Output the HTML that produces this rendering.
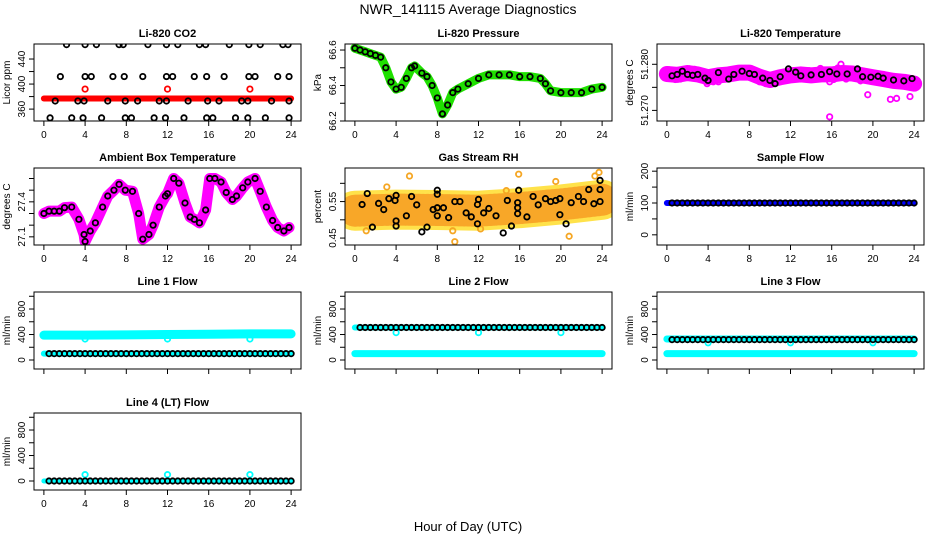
<!DOCTYPE html>
<html><head><meta charset="utf-8"><style>
body{margin:0;background:#fff}
svg{display:block;font-family:"Liberation Sans",sans-serif}
</style></head><body>
<svg id="c" width="936" height="540" viewBox="0 0 936 540">
<text x="468" y="14" font-size="14" text-anchor="middle">NWR_141115  Average Diagnostics</text>
<text x="468" y="531" font-size="13" text-anchor="middle">Hour of Day (UTC)</text>
</svg>
<script>
// ---- data ----
const hours = [0.5,1,1.5,2,2.5,3,3.5,4,4.5,5,5.5,6,6.5,7,7.5,8,8.5,9,9.5,10,10.5,11,11.5,12,12.5,13,13.5,14,14.5,15,15.5,16,16.5,17,17.5,18,18.5,19,19.5,20,20.5,21,21.5,22,22.5,23,23.5,24];
const xTicks = [0,4,8,12,16,20,24];
const spikeHours = [4,12,20];

const co2RedX = [0,24];
const co2RedY = [377,377];
const co2SpikeY = [392,392,392];
const co2BlackX = [2.2,4,5.1,7.3,7.7,10.1,11.9,13,15.1,15.7,18,19.9,21,23.2,23.7, 1.6,4,4.6,6.7,7.8,9.6,11.9,12.5,14.6,15.8,17.5,19.9,20.5,22.7,23.8, 1.1,3.3,3.9,6.2,7.9,9.1,11.2,11.9,14,15.9,17,19.2,19.8,22.1,23.8, 0.6,2.7,3.8,5.6,7.9,8.5,10.7,11.8,13.6,15.8,16.4,18.6,19.8,21.5,23.8];
const co2BlackY = [463,463,463,463,463,463,463,463,463,463,463,463,463,463,463, 412,412,412,412,412,412,412,412,412,412,412,412,412,412,412, 373,373,373,373,373,373,373,373,373,373,373,373,373,373,373, 346,346,346,346,346,346,346,346,346,346,346,346,346,346,346];

const presX = [0,0.5,1,1.5,2,2.5,3,3.5,4,4.5,5,5.5,5.8,6.5,7,7.5,8,8.5,9,9.5,10,11,12,13,14,15,16,17,18,18.5,19,20,21,22,23,24];
const presY = [66.61,66.60,66.59,66.58,66.57,66.56,66.50,66.42,66.38,66.39,66.44,66.50,66.51,66.47,66.45,66.40,66.33,66.24,66.29,66.36,66.38,66.41,66.44,66.46,66.46,66.46,66.45,66.45,66.44,66.41,66.37,66.36,66.36,66.36,66.38,66.39];

const tempBandX = [0,1,2,3,4,5,6,7,8,9,10,11,12,13,14,15,16,17,18,19,20,21,22,23,24];
const tempBandY = [51.2779,51.2777,51.2781,51.2778,51.2772,51.2776,51.2778,51.2782,51.2782,51.2773,51.2766,51.2772,51.2776,51.2778,51.2776,51.2778,51.2778,51.2781,51.2780,51.2776,51.2772,51.2768,51.2764,51.2762,51.2758];
const tempPinkX = [0.2,2.2,3.3,5.8,8.2,9.6,11.5,14.4,15.8,15.8,16.9,16.6,18.3,19.5,21.7,22.3,23.6,23.9,1.3,4.5,7,13,0.8,2.7,5,6.4,9,10.2,12.3,14.9,17.4,18.8,20.2,21,22.8,3.9,7.6,11,13.8,16.2];
const tempPinkY = [51.2788,51.2790,51.2772,51.2783,51.2790,51.2758,51.2765,51.2785,51.2762,51.2686,51.2800,51.2792,51.2785,51.2734,51.2724,51.2726,51.2730,51.2750,51.2768,51.2762,51.2790,51.2768,51.2767,51.2789,51.2762,51.2786,51.2762,51.2760,51.2786,51.2791,51.2768,51.2764,51.2762,51.2778,51.2754,51.2758,51.2791,51.2762,51.2786,51.2767];
const tempBlackX = [0.5,1,1.5,2,2.5,3,3.7,4,5,6,6.5,7.3,8,8.5,9.3,10,10.5,11,11.8,12.5,13,14,15,15.8,16.5,17.5,18.5,19,19.8,20.5,21,22,23,23.8];
const tempBlackY = [51.2775,51.2778,51.2785,51.2778,51.2776,51.2778,51.2770,51.2765,51.2782,51.2768,51.2778,51.2785,51.2780,51.2778,51.2770,51.2765,51.2758,51.2773,51.2790,51.2783,51.2775,51.2777,51.2778,51.2784,51.2779,51.2779,51.2790,51.2773,51.2772,51.2774,51.2770,51.2766,51.2764,51.2769];

const ambX = [0,0.5,1,1.5,2,2.7,3.4,3.9,4,4.5,5,5.7,6.2,6.8,7.3,7.9,8.6,9.2,9.6,10.2,10.6,11.2,11.8,12,12.6,13.1,13.7,14.2,14.6,15.1,15.7,16.1,16.6,17.2,17.7,18.3,18.7,19.3,19.8,20.5,21,21.6,22.2,22.7,23.3,23.8];
const ambY = [27.30,27.32,27.32,27.32,27.35,27.355,27.25,27.12,27.06,27.15,27.22,27.355,27.45,27.5,27.55,27.5,27.49,27.30,27.08,27.12,27.2,27.355,27.45,27.47,27.6,27.56,27.39,27.27,27.25,27.22,27.33,27.6,27.6,27.57,27.48,27.42,27.45,27.52,27.57,27.6,27.49,27.355,27.24,27.18,27.15,27.18];

const rhBandX = [0,4,8,12,16,20,24];
const rhBandY = [0.525,0.528,0.527,0.525,0.532,0.542,0.555];
const rhOutX = [5.3,15.9,19.5,23.3,23.7,9.7,20.8,14.7,9.5,1.1,3.1,12.2];
const rhOutY = [0.62,0.625,0.605,0.62,0.63,0.44,0.455,0.58,0.47,0.47,0.59,0.475];
const rhBlackX = [0.7,1.2,1.7,2.3,2.8,3.3,3.9,4,4,4,5,5.5,6,6.5,7,7.6,8,8,8,8,8.6,9.1,9.7,10.2,10.8,11.3,11.9,11.9,12,12.5,13,13.7,14.4,14.8,15.2,15.8,15.8,15.8,15.9,16.7,17.3,17.8,18.5,19,19.5,19.9,19.9,20.5,21,21.7,22.2,22.7,23.2,23.8,23.8,23.8];
const rhBlackY = [0.542,0.572,0.48,0.545,0.528,0.558,0.553,0.567,0.497,0.483,0.511,0.564,0.541,0.467,0.48,0.528,0.533,0.511,0.57,0.581,0.533,0.506,0.55,0.55,0.519,0.508,0.489,0.542,0.556,0.519,0.531,0.511,0.464,0.553,0.483,0.533,0.517,0.547,0.581,0.508,0.564,0.541,0.558,0.55,0.553,0.558,0.514,0.489,0.547,0.564,0.55,0.583,0.544,0.608,0.583,0.55];

const sampleLine = [100,100];
const sampleBlack = 100;
const l1Cyan = [390,390,395,400,405,410,410];
const l1Low = 100, l1Black = 100, l1Dip = 330;
const l2Cyan = 510, l2Low = 100, l2Black = 510, l2Dip = 430;
const l3Cyan = 330, l3Low = 100, l3Black = 320, l3Dip = 270;
const l4Cyan = 0, l4Black = 0, l4Bump = 100;
const flowTicks = [0,200,400,600,800,1000];
const flowLabels = ['0','','400','','800',''];

// ---- layout ----
const svg = document.getElementById('c');
const NS = 'http://www.w3.org/2000/svg';
const colL = [34,345,657], rowT = [44,168,292,413], W = 267, H = 77;
function el(tag, attrs, parent){const e=document.createElementNS(NS,tag);for(const k in attrs)e.setAttribute(k,attrs[k]);(parent||svg).appendChild(e);return e;}

function panel(col,row,o){
  const L=colL[col],T=rowT[row];
  const g=el('g',{});
  
  
  const xs=h=>L+(h+0.96)/25.92*W;
  const ys=v=>T+H-(v-o.ymin)/(o.ymax-o.ymin)*H;
  const t=el('text',{x:L+W/2,y:T-7,'font-size':11,'font-weight':'bold','text-anchor':'middle'},g);
  t.textContent=o.title;
  
  
  const clip=el('clipPath',{id:'cl'+col+row},g);
  el('rect',{x:L,y:T,width:W,height:H},clip);
  const plot=el('g',{'clip-path':'url(#cl'+col+row+')'},g);
  o.draw(plot,xs,ys);
  const box=el('rect',{x:L,y:T,width:W,height:H,fill:'none',stroke:'#000','stroke-width':1},g);
  
  
  xTicks.forEach(h=>{
    el('line',{x1:xs(h),x2:xs(h),y1:T+H,y2:T+H+5,stroke:'#000'},g);
    if(o.xlabels){const tx=el('text',{x:xs(h),y:T+H+17,'font-size':10,'text-anchor':'middle'},g);tx.textContent=h;
      
      }
  });
  el('line',{x1:xs(0),x2:xs(24),y1:T+H,y2:T+H,stroke:'#000'},g);
  o.yt.forEach((v,i)=>{
    const y=ys(v);
    el('line',{x1:L-5,x2:L,y1:y,y2:y,stroke:'#000'},g);
    const lab=o.yl[i];
    if(lab){const ty=el('text',{x:0,y:0,'font-size':10,'text-anchor':'middle',transform:`translate(${L-9},${y}) rotate(-90)`},g);ty.textContent=lab;
      
      }
  });
  el('line',{x1:L,x2:L,y1:ys(o.yt[0]),y2:ys(o.yt[o.yt.length-1]),stroke:'#000'},g);
  const yt=el('text',{x:0,y:0,'font-size':10,'text-anchor':'middle',transform:`translate(${L-24},${T+H/2}) rotate(-90)`},g);
  yt.textContent=o.ylab;
  
  
}
function circ(p,x,y,c,r){return el('circle',{cx:x,cy:y,r:r||2.7,fill:'none',stroke:c,'stroke-width':1.8},p);}
function band(p,xsArr,ysArr,xs,ys,c,w){
  const pts=xsArr.map((h,i)=>xs(h)+','+ys(ysArr[i])).join(' ');
  const pl=el('polyline',{points:pts,fill:'none',stroke:c,'stroke-width':w,'stroke-linejoin':'round','stroke-linecap':'round'},p);
  
  
  return pl;
}
function blacks(p,xsArr,ysArr,xs,ys){xsArr.forEach((h,i)=>{const c=circ(p,xs(h),ys(ysArr[i]),'#000');
  
  });}

panel(0,0,{name:'co2-panel',title:'Li-820 CO2',ylab:'Licor ppm',ymin:341,ymax:464,yt:[360,380,400,420,440],yl:['360','','400','','440'],xlabels:true,
  draw:(p,xs,ys)=>{band(p,co2RedX,co2RedY,xs,ys,'#f00',6);
    spikeHours.forEach((h,i)=>circ(p,xs(h),ys(co2SpikeY[i]),'#f00'));
    blacks(p,co2BlackX,co2BlackY,xs,ys);}});
panel(1,0,{name:'pressure-panel',title:'Li-820 Pressure',ylab:'kPa',ymin:66.2,ymax:66.634,yt:[66.2,66.3,66.4,66.5,66.6],yl:['66.2','','66.4','','66.6'],xlabels:true,
  draw:(p,xs,ys)=>{band(p,presX,presY,xs,ys,'#1fe000',9);blacks(p,presX,presY,xs,ys);}});
panel(2,0,{name:'temperature-panel',title:'Li-820 Temperature',ylab:'degrees C',ymin:51.2677,ymax:51.2844,yt:[51.270,51.275,51.280],yl:['51.270','','51.280'],xlabels:true,
  draw:(p,xs,ys)=>{band(p,tempBandX,tempBandY,xs,ys,'#f0f',16);
    tempPinkX.forEach((h,i)=>circ(p,xs(h),ys(tempPinkY[i]),'#f0f'));
    blacks(p,tempBlackX,tempBlackY,xs,ys);}});
panel(0,1,{name:'ambient-panel',title:'Ambient Box Temperature',ylab:'degrees C',ymin:27.03,ymax:27.69,yt:[27.1,27.2,27.3,27.4,27.5,27.6],yl:['27.1','','','27.4','',''],xlabels:true,
  draw:(p,xs,ys)=>{band(p,ambX,ambY,xs,ys,'#f0f',11);blacks(p,ambX,ambY,xs,ys);}});
panel(1,1,{name:'rh-panel',title:'Gas Stream RH',ylab:'percent',ymin:0.431,ymax:0.642,yt:[0.45,0.5,0.55,0.6],yl:['0.45','','0.55',''],xlabels:true,
  draw:(p,xs,ys)=>{band(p,rhBandX,rhBandY,xs,ys,'#ffe24a',40);
    const b2=band(p,rhBandX,rhBandY,xs,ys,'#f06000',32);b2.setAttribute('stroke-dasharray','1.5 3');b2.setAttribute('stroke-opacity','0.45');
    rhOutX.forEach((h,i)=>circ(p,xs(h),ys(rhOutY[i]),'#f5a623'));
    blacks(p,rhBlackX,rhBlackY,xs,ys);}});
panel(2,1,{name:'sample-flow-panel',title:'Sample Flow',ylab:'ml/min',ymin:-32,ymax:210,yt:[0,50,100,150,200],yl:['0','','100','','200'],xlabels:true,
  draw:(p,xs,ys)=>{band(p,[0,24],sampleLine,xs,ys,'#00f',6);blacks(p,hours,hours.map(()=>sampleBlack),xs,ys);}});
const fl={ymin:-141,ymax:1067,yt:flowTicks,yl:flowLabels,ylab:'ml/min'};
panel(0,2,Object.assign({},fl,{name:'line1-flow-panel',title:'Line 1 Flow',xlabels:false,
  draw:(p,xs,ys)=>{band(p,xTicks,l1Cyan,xs,ys,'#0ff',9);band(p,[0,24],[l1Low,l1Low],xs,ys,'#0ff',6);
    spikeHours.forEach(h=>circ(p,xs(h),ys(l1Dip),'#0ff'));blacks(p,hours,hours.map(()=>l1Black),xs,ys);}}));
panel(1,2,Object.assign({},fl,{name:'line2-flow-panel',title:'Line 2 Flow',xlabels:false,
  draw:(p,xs,ys)=>{band(p,[0,24],[l2Cyan,l2Cyan],xs,ys,'#0ff',6);band(p,[0,24],[l2Low,l2Low],xs,ys,'#0ff',7);
    spikeHours.forEach(h=>circ(p,xs(h),ys(l2Dip),'#0ff'));blacks(p,hours,hours.map(()=>l2Black),xs,ys);}}));
panel(2,2,Object.assign({},fl,{name:'line3-flow-panel',title:'Line 3 Flow',xlabels:false,
  draw:(p,xs,ys)=>{band(p,[0,24],[l3Cyan,l3Cyan],xs,ys,'#0ff',7);band(p,[0,24],[l3Low,l3Low],xs,ys,'#0ff',7);
    spikeHours.forEach(h=>circ(p,xs(h),ys(l3Dip),'#0ff'));blacks(p,hours,hours.map(()=>l3Black),xs,ys);}}));
panel(0,3,Object.assign({},fl,{name:'line4-flow-panel',title:'Line 4 (LT) Flow',xlabels:true,
  draw:(p,xs,ys)=>{band(p,[0,24],[l4Cyan,l4Cyan],xs,ys,'#0ff',5);
    spikeHours.forEach(h=>circ(p,xs(h),ys(l4Bump),'#0ff'));blacks(p,hours,hours.map(()=>l4Black),xs,ys);}}));
</script>
</body></html>
